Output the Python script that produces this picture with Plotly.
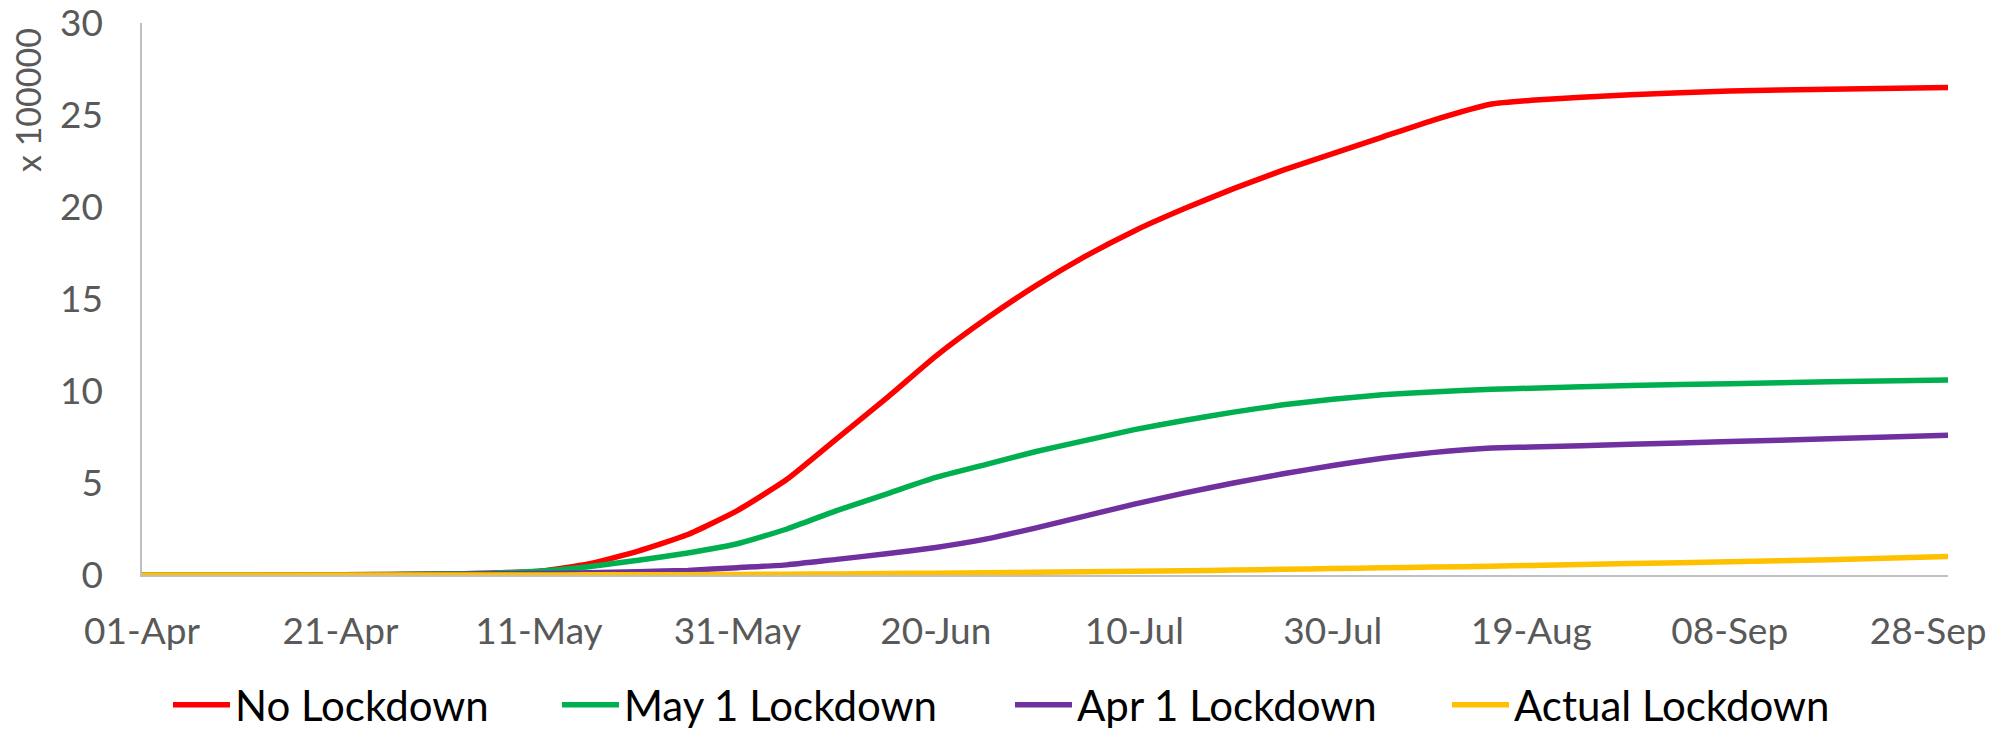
import plotly.graph_objects as go
from datetime import date, timedelta

# ---- data (values in units of 100000) ----
start = date(2020, 4, 1)
sample_days = [0, 10, 20, 30, 35, 40, 45, 50, 55, 60, 65, 70, 75, 80, 85, 90, 95, 100,
               105, 110, 115, 120, 125, 130, 136, 140, 150, 160, 170, 182]

no_lockdown = [0, 0, 0.02, 0.05, 0.1, 0.2, 0.6, 1.3, 2.2, 3.5, 5.2, 7.4, 9.6, 11.9, 13.9,
               15.7, 17.3, 18.7, 19.9, 21.0, 22.0, 22.9, 23.8, 24.7, 25.6, 25.8, 26.1,
               26.3, 26.4, 26.5]
may1_lockdown = [0, 0, 0.01, 0.05, 0.1, 0.2, 0.45, 0.8, 1.2, 1.7, 2.5, 3.5, 4.4, 5.3, 6.0,
                 6.7, 7.3, 7.9, 8.4, 8.85, 9.25, 9.55, 9.8, 9.95, 10.1, 10.15, 10.3, 10.4,
                 10.5, 10.6]
apr1_lockdown = [0, 0, 0.01, 0.03, 0.05, 0.08, 0.12, 0.18, 0.25, 0.4, 0.55, 0.85, 1.15, 1.5,
                 1.95, 2.55, 3.2, 3.85, 4.45, 5.0, 5.5, 5.95, 6.35, 6.65, 6.9, 6.95, 7.1,
                 7.25, 7.4, 7.6]
actual_lockdown = [0, 0, 0, 0, 0, 0, 0.01, 0.01, 0.02, 0.03, 0.04, 0.06, 0.08, 0.1, 0.12,
                   0.15, 0.17, 0.2, 0.23, 0.27, 0.31, 0.35, 0.39, 0.43, 0.48, 0.52, 0.62,
                   0.72, 0.83, 1.0]

series_names = ["No Lockdown", "May 1 Lockdown", "Apr 1 Lockdown", "Actual Lockdown"]
series_colors = ["#FF0000", "#00B050", "#7030A0", "#FFC000"]
legend_widths = [317, 381, 365, 400]

tick_days = [0, 20, 40, 60, 80, 100, 120, 140, 160, 180]
tick_labels = ["01-Apr", "21-Apr", "11-May", "31-May", "20-Jun", "10-Jul", "30-Jul",
               "19-Aug", "08-Sep", "28-Sep"]
y_ticks = [0, 5, 10, 15, 20, 25, 30]

x_dates = [start + timedelta(days=d) for d in sample_days]
tick_dates = [start + timedelta(days=d) for d in tick_days]

fig = go.Figure()
for name, vals, col, lw in zip(series_names,
                               [no_lockdown, may1_lockdown, apr1_lockdown, actual_lockdown],
                               series_colors, legend_widths):
    fig.add_trace(go.Scatter(x=x_dates, y=vals, mode="lines", name=name,
                             line=dict(color=col, width=5.5, shape="spline", smoothing=0.5),
                             legendwidth=lw))

FONT = "Lato"
fig.update_layout(
    width=2002, height=732,
    margin=dict(l=142, r=54, t=23, b=157, autoexpand=False),
    paper_bgcolor="white", plot_bgcolor="white",
    font=dict(family=FONT, color="#595959"),
    showlegend=True,
    legend=dict(orientation="h", xref="container", yref="container",
                x=168 / 2002, xanchor="left", y=(732 - 705) / 732, yanchor="middle",
                itemwidth=57,
                font=dict(family=FONT, size=42, color="#000000"),
                bgcolor="rgba(0,0,0,0)"),
    xaxis=dict(type="date", automargin=False,
               range=[start, start + timedelta(days=182)],
               tickmode="array", tickvals=tick_dates, ticktext=tick_labels,
               showgrid=False, zeroline=False,
               showline=True, linecolor="#BFBFBF", linewidth=1.5,
               ticks="", ticklabelstandoff=23, ticklabeloverflow="allow",
               tickfont=dict(family=FONT, size=37, color="#595959")),
    yaxis=dict(range=[0, 30], tickmode="array", tickvals=y_ticks, automargin=False,
               showgrid=False, zeroline=False,
               showline=True, linecolor="#BFBFBF", linewidth=1.5,
               ticks="", ticklabelstandoff=30, ticklabeloverflow="allow",
               tickfont=dict(family=FONT, size=37, color="#595959")),
    annotations=[dict(text="x 100000", textangle=-90, xref="paper", yref="paper",
                      x=(28 - 142) / 1806, y=(575 - 100) / 552,
                      xanchor="center", yanchor="middle", showarrow=False,
                      font=dict(family=FONT, size=34, color="#595959"))],
)

fig.write_html("out.html", config={"displayModeBar": False},
               post_script="document.body.style.margin='0px';document.body.style.padding='0px';")
